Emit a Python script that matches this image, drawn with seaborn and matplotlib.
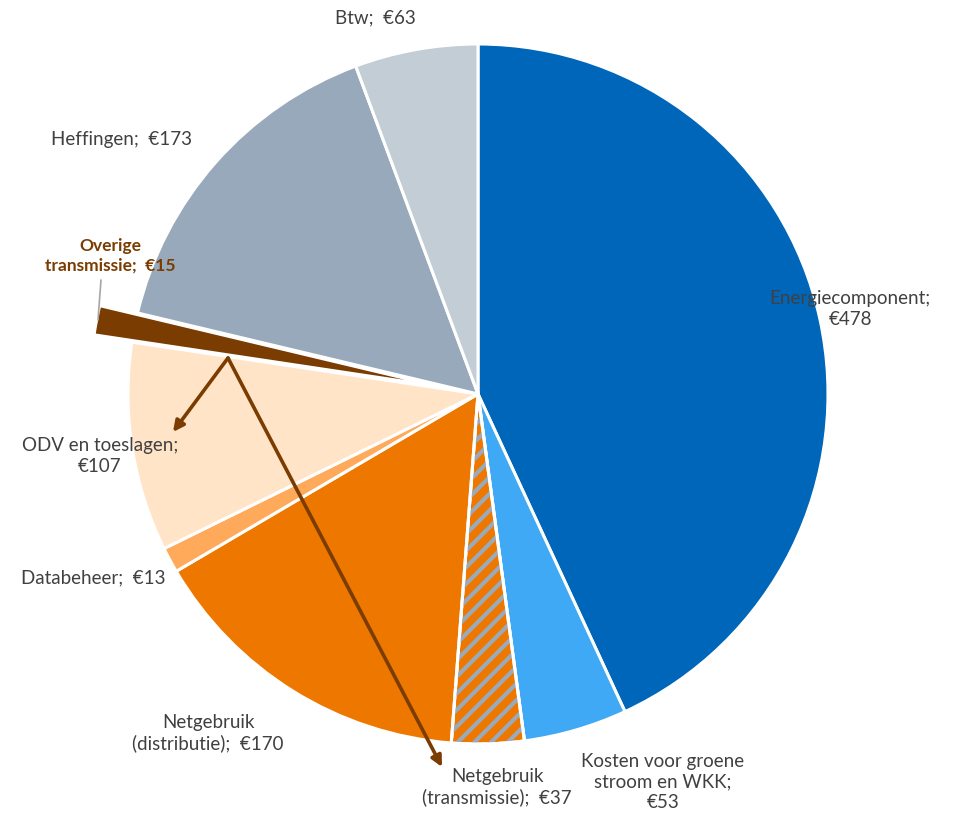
import matplotlib.pyplot as plt
import seaborn as sns
from matplotlib.patches import Wedge

# data
labels = ["Energiecomponent", "Kosten voor groene\nstroom en WKK", "Netgebruik\n(transmissie)",
          "Netgebruik\n(distributie)", "Databeheer", "ODV en toeslagen",
          "Overige\ntransmissie", "Heffingen", "Btw"]
values = [478, 53, 37, 170, 13, 107, 15, 173, 63]
colors = ["#0066BA", "#3FA9F5", "#EE7700", "#EE7700", "#FFAA5A", "#FFE4C8",
          "#7A3C00", "#97A9BA", "#C3CDD6"]
explode_frac = [0, 0, 0, 0, 0, 0, 0.11, 0, 0]

# label text as shown (separator after name)
label_texts = ["Energiecomponent;\n€478", "Kosten voor groene\nstroom en WKK;\n€53",
               "Netgebruik\n(transmissie);  €37", "Netgebruik\n(distributie);  €170",
               "Databeheer;  €13", "ODV en toeslagen;\n€107", "Overige\ntransmissie;  €15",
               "Heffingen;  €173", "Btw;  €63"]
# label centres in pixel coords (x, y from top)
label_pos = [(850, 309), (663, 782), (497, 787), (208, 733), (93, 578),
             (100, 456), (110, 256), (121, 139), (375, 18)]

sns.set_theme(style="white")
plt.rcParams["font.family"] = ["Lato", "DejaVu Sans"]
plt.rcParams["hatch.linewidth"] = 3.0

W, H = 955, 818
fig = plt.figure(figsize=(W / 100, H / 100), dpi=100)
ax = fig.add_axes([0, 0, 1, 1])

cx, cy, R = 478, H - 394, 350
wedges, _ = ax.pie(values, colors=colors, explode=[e * R for e in explode_frac],
                   startangle=90, counterclock=False, center=(cx, cy), radius=R,
                   frame=True, wedgeprops=dict(edgecolor="white", linewidth=2.2))
ax.set_xlim(0, W)
ax.set_ylim(0, H)
ax.set_aspect("equal")
ax.axis("off")

# hatched transmissie slice
w = wedges[2]
ax.add_patch(Wedge(w.center, w.r, w.theta1, w.theta2, facecolor="none",
                   edgecolor="#9AAAB8", linewidth=0, hatch="//",
                   zorder=w.get_zorder() + 0.1))
ax.add_patch(Wedge(w.center, w.r, w.theta1, w.theta2, facecolor="none",
                   edgecolor="white", linewidth=2.2, zorder=w.get_zorder() + 0.2))

for i, (txt, (px, py)) in enumerate(zip(label_texts, label_pos)):
    if i == 6:
        ax.text(px, H - py, txt, ha="center", va="center", fontsize=12.5,
                color="#7A3C00", fontweight="bold", linespacing=1.3)
    else:
        ax.text(px, H - py, txt, ha="center", va="center", fontsize=13.5,
                color="#404040", linespacing=1.25)

# leader for Overige transmissie
ax.plot([101, 98], [H - 280, H - 320], color="#A6A6A6", lw=1.2)

# brown arrows
vx, vy = 228, H - 358
for tx, ty in [(173, H - 432), (442, H - 767)]:
    ax.annotate("", xy=(tx, ty), xytext=(vx, vy),
                arrowprops=dict(arrowstyle="-|>", color="#7A3C00", lw=2.6,
                                mutation_scale=16, shrinkA=0, shrinkB=0))

fig.savefig("out.png", dpi=100)
